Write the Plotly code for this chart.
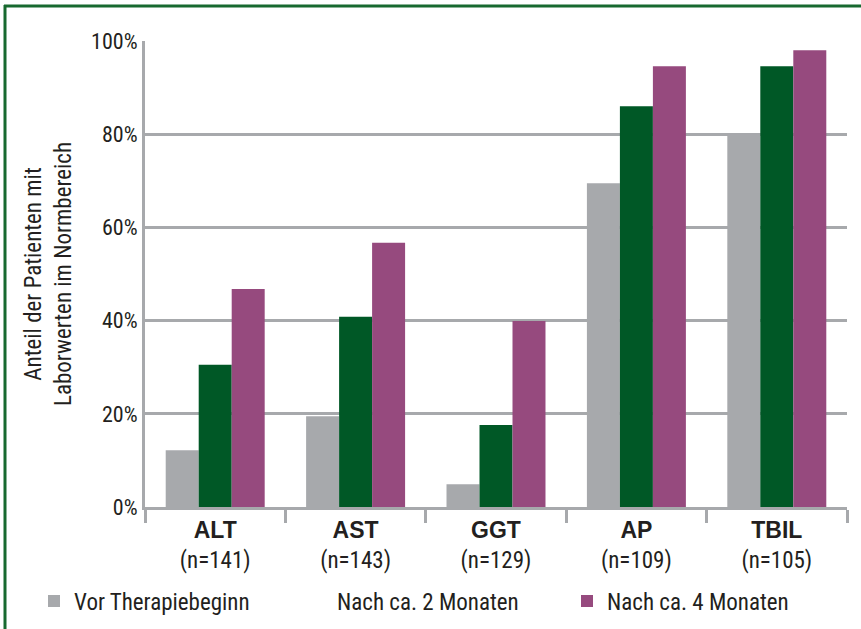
import plotly.graph_objects as go

# Laborparameter mit Fallzahlen
parameters = ["ALT", "AST", "GGT", "AP", "TBIL"]
n_values = [141, 143, 129, 109, 105]

# Anteil der Patienten (%) mit Laborwerten im Normbereich
vor_therapie = [12.2, 19.5, 4.9, 69.5, 80.0]
nach_2_monaten = [30.5, 40.8, 17.6, 86.0, 94.6]
nach_4_monaten = [46.8, 56.7, 39.9, 94.6, 98.0]

series_names = ["Vor Therapiebeginn", "Nach ca. 2 Monaten", "Nach ca. 4 Monaten"]
y_ticks = [0, 20, 40, 60, 80, 100]

GRAY = "#a7a9ac"
GREEN = "#005826"
PURPLE = "#964a7e"
TEXT = "#231f20"
BORDER = "#17692f"
NARROW = "Roboto Condensed, Liberation Sans, sans-serif"

W, H = 861, 629
L, R, T, B = 145, 14, 41, 122
plot_w = W - L - R
plot_h = H - T - B


def px_x(px):
    return (px - L) / plot_w


def px_y(py):
    return (H - B - py) / plot_h


tick_text = [
    f'<span style="font-family:Liberation Sans;font-weight:bold;font-size:23px">{p}</span>'
    f'<br>(n={n})'
    for p, n in zip(parameters, n_values)
]

fig = go.Figure()
fig.add_trace(go.Bar(x=parameters, y=vor_therapie, name=series_names[0],
                     marker=dict(color=GRAY, line=dict(width=0)), legend="legend"))
fig.add_trace(go.Bar(x=parameters, y=nach_2_monaten, name=series_names[1],
                     marker=dict(color=GREEN, line=dict(width=0)), showlegend=False))
fig.add_trace(go.Bar(x=parameters, y=nach_4_monaten, name=series_names[2],
                     marker=dict(color=PURPLE, line=dict(width=0)), legend="legend3"))
# Legend entry for the 2-month series is shown as text only
fig.add_trace(go.Scatter(x=[None], y=[None], mode="markers", name=series_names[1],
                         marker=dict(color="rgba(0,0,0,0)", size=1), legend="legend2",
                         hoverinfo="skip"))

legend_common = dict(orientation="h", yanchor="middle", xanchor="left",
                     font=dict(family=NARROW, size=23, color=TEXT),
                     bgcolor="rgba(0,0,0,0)", borderwidth=0)
ly = px_y(601)

fig.update_layout(
    width=W, height=H,
    margin=dict(l=L, r=R, t=T, b=B, autoexpand=False),
    paper_bgcolor="white", plot_bgcolor="white",
    barmode="group", bargap=0.295, bargroupgap=0,
    font=dict(family=NARROW, size=23, color=TEXT),
    legend=dict(x=px_x(34), y=ly, **legend_common),
    legend2=dict(x=px_x(297), y=ly, **legend_common),
    legend3=dict(x=px_x(567), y=ly, **legend_common),
    xaxis=dict(
        type="category", categoryorder="array", categoryarray=parameters,
        tickmode="array", tickvals=parameters, ticktext=tick_text,
        tickson="boundaries", ticks="outside", ticklen=13, tickwidth=3, tickcolor=GRAY,
        showline=True, linecolor=GRAY, linewidth=3,
        showgrid=False, zeroline=False, automargin=False,
        tickfont=dict(family=NARROW, size=23, color=TEXT),
    ),
    yaxis=dict(
        range=[0, 100], tickmode="array", tickvals=y_ticks,
        ticktext=[f"{v}%" for v in y_ticks],
        showgrid=True, gridcolor=GRAY, gridwidth=3,
        showline=True, linecolor=GRAY, linewidth=3,
        zeroline=False, ticks="", automargin=False,
        tickfont=dict(family=NARROW, size=22, color=TEXT),
        title=dict(text="Anteil der Patienten mit<br>Laborwerten im Normbereich",
                   font=dict(family=NARROW, size=23, color=TEXT), standoff=14),
    ),
    shapes=[
        dict(type="line", xref="paper", yref="paper",
             x0=px_x(4), x1=px_x(W + 2), y0=px_y(6), y1=px_y(6),
             line=dict(color=BORDER, width=3)),
        dict(type="line", xref="paper", yref="paper",
             x0=px_x(5), x1=px_x(5), y0=px_y(5), y1=px_y(H + 2),
             line=dict(color=BORDER, width=3)),
    ],
)

fig.write_html("out.html")
